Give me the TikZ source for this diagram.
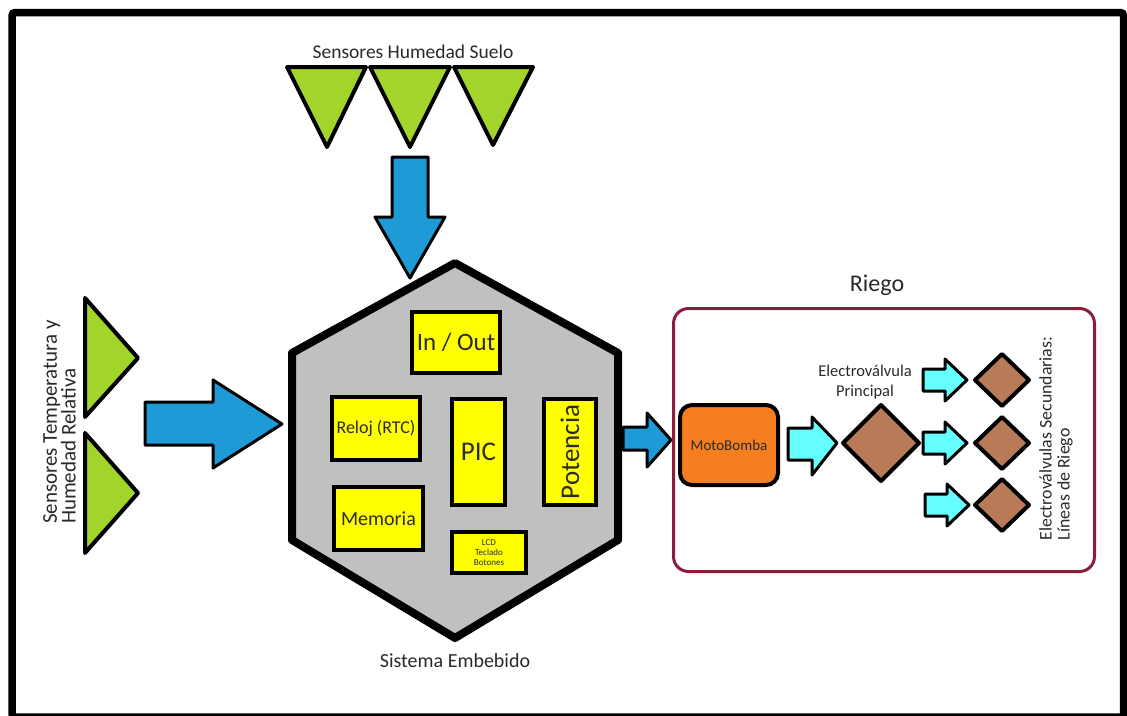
\documentclass[tikz,border=0pt]{standalone}
\usepackage{fontspec}
\setmainfont{Carlito}
\definecolor{txtgray}{HTML}{2A2A2A}
\definecolor{leaf}{HTML}{A2D42A}
\definecolor{flowblue}{HTML}{1E9BD7}
\definecolor{hexgray}{HTML}{C0C0C0}
\definecolor{chipyellow}{HTML}{FFFF00}
\definecolor{pumporange}{HTML}{F47E20}
\definecolor{watercyan}{HTML}{66FFFF}
\definecolor{valvebrown}{HTML}{B97A57}
\definecolor{riegored}{HTML}{8C1D3C}
\tikzset{
  lbl/.style={text=txtgray, inner sep=0pt},
  sensortri/.style={draw=black, fill=leaf, line width=4, line join=round},
  bluearrow/.style={draw=black, fill=flowblue, line width=3, line join=round},
  cyanarrow/.style={draw=black, fill=watercyan, line width=3, line join=round},
  hexbody/.style={draw=black, fill=hexgray, line width=8, line join=round},
  chip/.style={draw=black, fill=chipyellow, line width=4, inner sep=0pt, text=txtgray, align=center},
  valve/.style={draw=black, fill=valvebrown, line width=4, line join=round},
}
\begin{document}
\begin{tikzpicture}[x=1pt,y=-1pt]
\useasboundingbox (0,0) rectangle (1127,715);
\fill[white] (0,0) rectangle (1127,715);
\draw[line width=7.5, rounded corners=3] (12,12.5) rectangle (1123.5,717);

% soil sensors
\node[lbl, font=\fontsize{19.5}{22}\selectfont] (tsoil) at (413,52) {Sensores Humedad Suelo};
\draw[sensortri] (287,67) -- (366,67) -- (327,147) -- cycle;
\draw[sensortri] (370,67) -- (450,67) -- (410,147) -- cycle;
\draw[sensortri] (454,67) -- (533,67) -- (493,145) -- cycle;
\draw[bluearrow] (392,157) -- (428,157) -- (428,217) -- (445,217) -- (410,278) -- (375,217) -- (392,217) -- cycle;

% temperature / humidity sensors
\node[lbl, rotate=90, align=left, font=\fontsize{21}{16.5}\selectfont] (ttemp) at (59.5,422) {Sensores Temperatura y\\Humedad Relativa};
\draw[sensortri] (85,298) -- (138,358) -- (85,417) -- cycle;
\draw[sensortri] (85,433) -- (138,493) -- (85,553) -- cycle;
\draw[bluearrow] (145,402) -- (213,402) -- (213,380) -- (282,424) -- (213,468) -- (213,445) -- (145,445) -- cycle;

% embedded system
\draw[hexbody] (455,263) -- (618,353) -- (618,540) -- (455,638) -- (292,540) -- (292,353) -- cycle;
\coordinate (hex) at (455,450);
\node[chip, minimum width=88, minimum height=61, font=\fontsize{25}{26}\selectfont] (io) at (456,342.5) {In / Out};
\node[chip, minimum width=88, minimum height=63, font=\fontsize{18}{19}\selectfont] (rtc) at (376,428.5) {Reloj (RTC)};
\node[chip, minimum width=53, minimum height=106, font=\fontsize{27}{28}\selectfont] (pic) at (478.5,452) {PIC};
\node[chip, minimum width=52, minimum height=106] (pot) at (570,452) {};
\node[lbl, rotate=90, font=\fontsize{27}{28}\selectfont] at (pot) {Potencia};
\node[chip, minimum width=89, minimum height=63, font=\fontsize{20}{21}\selectfont] (mem) at (378.5,518.5) {Memoria};
\node[chip, minimum width=74, minimum height=41, font=\fontsize{9}{10}\selectfont] (lcd) at (489,552.5) {LCD\\Teclado\\Botones};
\node[lbl, font=\fontsize{20}{22}\selectfont] (tsys) at (455,661) {Sistema Embebido};

\draw[bluearrow] (623,427) -- (647,427) -- (647,413) -- (671,440) -- (647,467) -- (647,450) -- (623,450) -- cycle;

% irrigation
\node[draw=riegored, line width=3, rounded corners=15, minimum width=421, minimum height=263, inner sep=0pt] (riego) at (884,440) {};
\node[lbl, font=\fontsize{24}{26}\selectfont] (triego) at (877,285) {Riego};
\node[draw=black, fill=pumporange, line width=4, rounded corners=12, minimum width=98, minimum height=80, inner sep=0pt, text=txtgray, font=\fontsize{15}{16}\selectfont] (pump) at (729,445) {MotoBomba};
\draw[cyanarrow] (788,428) -- (812,428) -- (812,417) -- (837,443) -- (812,475) -- (812,460) -- (788,460) -- cycle;
\draw[valve] (881,405) -- (919,443) -- (881,481) -- (843,443) -- cycle;
\coordinate (mainvalve) at (881,443);
\node[lbl, align=center, font=\fontsize{16.5}{20}\selectfont] (tmain) at (865,382) {Electroválvula\\Principal};

\foreach \yy/\xs in {380/923, 443/923, 505/925}{
  \draw[cyanarrow] (\xs,\yy-11) -- (\xs+22,\yy-11) -- (\xs+22,\yy-21) -- (\xs+44,\yy) -- (\xs+22,\yy+21) -- (\xs+22,\yy+11) -- (\xs,\yy+11) -- cycle;
  \draw[valve] (1002,\yy-26) -- (1029,\yy) -- (1002,\yy+26) -- (975,\yy) -- cycle;
}
\node[lbl, rotate=90, align=left, font=\fontsize{17.8}{18}\selectfont] (tsec) at (1056,438.5) {Electroválvulas Secundarias:\\Líneas de Riego};
\end{tikzpicture}
\end{document}
